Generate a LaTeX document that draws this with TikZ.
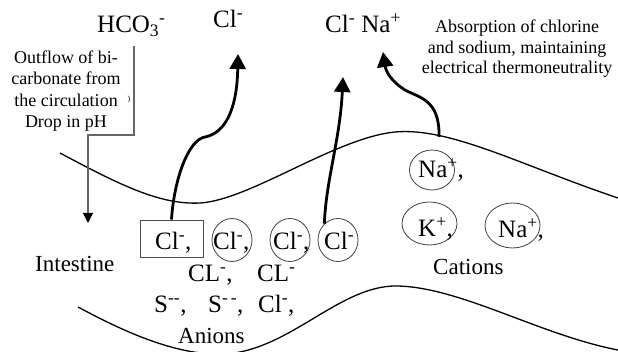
\documentclass[tikz,border=0pt]{standalone}
\usepackage{fontspec}
\setmainfont{Liberation Serif}
\usetikzlibrary{arrows.meta,shapes.geometric}
\begin{document}
\begin{tikzpicture}[x=1pt,y=-1pt,
  lbl/.style={font=\fontsize{23}{26}\selectfont, anchor=base west, inner sep=0pt},
  ion/.style={font=\fontsize{25}{28}\selectfont, anchor=base west, inner sep=0pt},
  note/.style={font=\fontsize{18}{20.5}\selectfont, align=center, inner sep=0pt},
  ring/.style={draw=black!75, line width=0.8pt, ellipse, inner sep=0pt},
  wall/.style={line width=1.3pt},
  flow/.style={line width=2.8pt, -{Triangle[length=15pt,width=16pt]}},
  grayflow/.style={draw=black!60, line width=1.2pt, -{Triangle[length=10pt,width=10pt,color=black]}}
]
\useasboundingbox (0,0) rectangle (618,352);

% intestine walls
\draw[wall] (60,153) .. controls (120,185) and (160,205) .. (200,203)
  .. controls (250,200) and (335,138) .. (395,132)
  .. controls (450,127) and (520,165) .. (618,198);
\draw[wall] (78,307) .. controls (130,335) and (180,356) .. (225,354)
  .. controls (290,350) and (340,285) .. (397,286)
  .. controls (460,287) and (540,335) .. (618,350);

% top labels
\node[ion] (hco) at (97,33) {HCO\textsubscript{3}\textsuperscript{-}};
\node[ion] (clt) at (213,28) {Cl\textsuperscript{-}};
\node[ion] (clna) at (325,33) {Cl\textsuperscript{-} Na\textsuperscript{+}};
\node[note] (abs) at (517,49) {Absorption of chlorine\\and sodium, maintaining\\electrical thermoneutrality};
\node[note, font=\fontsize{18}{21.3}\selectfont] (out) at (66,91) {Outflow of bi-\\carbonate from\\the circulation\\Drop in pH};
\node[inner sep=0pt, font=\fontsize{8}{8}\selectfont] (mk) at (129,100) {)};

% gray arrow
\coordinate (g0) at (134,46);
\coordinate (g1) at (88,223);
\draw[grayflow] (g0) -- (134,135) -- (88,135) -- (g1);

% anions
\node[draw=black!70, line width=0.9pt, minimum width=63pt, minimum height=37pt, inner sep=0pt] (box) at (171.5,238.5) {};
\node[ion] (a0) at (155,250) {Cl\textsuperscript{-},};
\node[ring, minimum width=40pt, minimum height=43pt] (r1) at (232,240) {};
\node[ion] (a1) at (213,250) {Cl\textsuperscript{-},};
\node[ring, minimum width=40pt, minimum height=43pt] (r2) at (290,240) {};
\node[ion] (a2) at (273,250) {Cl\textsuperscript{-},};
\node[ring, minimum width=40pt, minimum height=43pt] (r3) at (338,240) {};
\node[ion] (a3) at (324,250) {Cl\textsuperscript{-}};
\node[ion] (b1) at (188,282) {CL\textsuperscript{-},};
\node[ion] (b2) at (257,282) {CL\textsuperscript{-}};
\node[ion] (s1) at (154,313) {S\textsuperscript{-{}-},};
\node[ion] (s2) at (208,313) {S\textsuperscript{-\,-},};
\node[ion] (s3) at (258,313) {Cl\textsuperscript{-},};
\node[lbl] (anions) at (178,343) {Anions};
\node[lbl] (intestine) at (35,272) {Intestine};

% cations
\node[ring, minimum width=45pt, minimum height=40pt] (n1) at (432,170) {};
\node[ion] (na1) at (418,178) {Na\textsuperscript{+},};
\node[ring, minimum width=55pt, minimum height=43pt] (n2) at (429.5,223.5) {};
\node[ion] (k1) at (418,237) {K\textsuperscript{+},};
\node[ring, minimum width=55pt, minimum height=45pt] (n3) at (512.5,225.5) {};
\node[ion] (na2) at (498,238) {Na\textsuperscript{+},};
\node[lbl] (cations) at (433,275) {Cations};

% transport arrows
\coordinate (t1) at (238,54);
\coordinate (t2) at (343,77);
\coordinate (t3s) at (439,137);
\coordinate (t3) at (383,52);
\draw[flow] (box.north) .. controls (174,180) and (188,140) .. (205,137)
  .. controls (225,133) and (237,110) .. (t1);
\draw[flow] (r3.130) .. controls (326,180) and (340,140) .. (t2);
\draw[flow] (t3s) .. controls (440,100) and (420,98) .. (405,90)
  .. controls (392,82) and (386,72) .. (t3);
\end{tikzpicture}
\end{document}
